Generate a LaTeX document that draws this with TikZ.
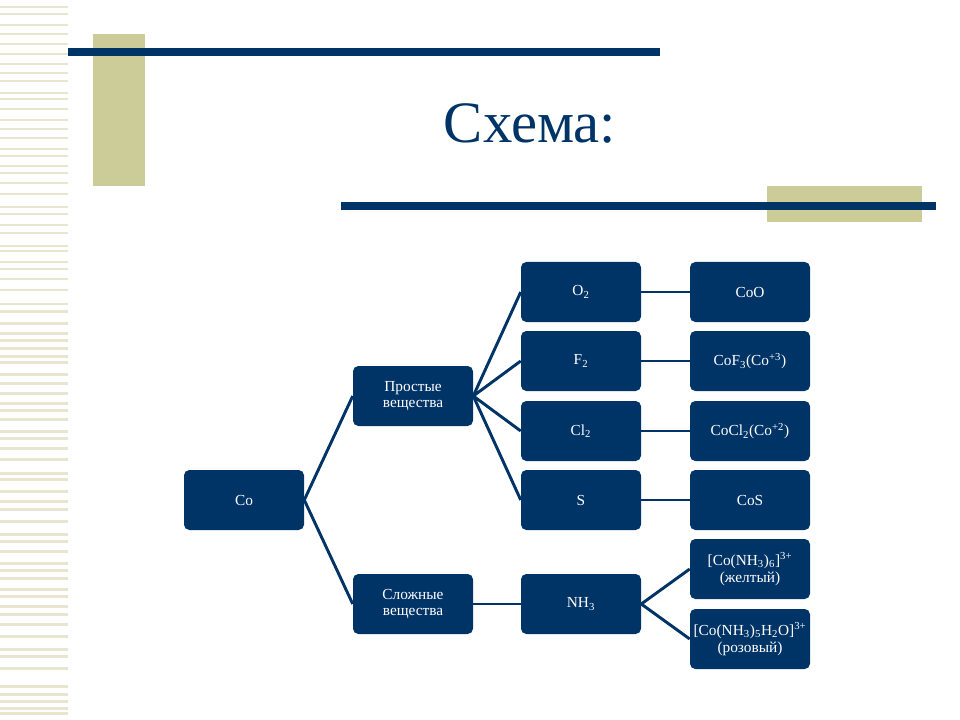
\documentclass[tikz,border=0pt]{standalone}
\usepackage{fontspec}
\setmainfont{Liberation Serif}

\definecolor{navy}{RGB}{0,51,102}
\definecolor{khaki}{RGB}{204,204,153}
\definecolor{stripe}{RGB}{232,230,206}

\tikzset{
  box/.style={fill=navy, rounded corners=4pt, minimum width=90pt, minimum height=45pt,
    text=white, align=center, inner sep=2pt, font=\fontsize{11.5}{12.5}\selectfont},
  link/.style={draw=navy, line width=2.2pt},
}

\begin{document}
\begin{tikzpicture}[x=0.75pt, y=-0.75pt]
\useasboundingbox (0,0) rectangle (960,720);

% left stripes
\foreach \y in {6,13,24,33,43,53,63,72,80,92,98,108,119,128,137,148,155,165,172,182,193,
  206,213,224,232,245,250,261,268,278,289,303,310,322,332,339,347,355,361,373,382,392,
  402,409,418,430,437,447,458,472,478,490,500,508,520,533,540,550,562,569,577,588,595,
  605,613,623,635,648,655,667,685,693,700,707,712}
  \fill[stripe] (0,\y) rectangle (68,\y+2.5);

% title bars
\fill[khaki] (93,34) rectangle (145,186);
\fill[navy] (68,48) rectangle (660,56);
\fill[khaki] (767,186) rectangle (922,222);
\fill[navy] (341,202) rectangle (936,210);

\node[text=navy, anchor=base, font=\fontsize{44}{50}\selectfont] (title) at (530,143) {Схема:};

\node[box] (co) at (244,500) {Co};

\node[box] (simple) at (413,396) {Простые\\вещества};
\node[box] (complex) at (413,604) {Сложные\\вещества};

\node[box] (o2) at (581,292) {O\textsubscript{2}};
\node[box] (f2) at (581,361) {F\textsubscript{2}};
\node[box] (cl2) at (581,431) {Cl\textsubscript{2}};
\node[box] (s) at (581,500) {S};
\node[box] (nh3) at (581,604) {NH\textsubscript{3}};

\node[box] (coo) at (750,292) {CoO};
\node[box] (cof3) at (750,361) {CoF\textsubscript{3}(Co\textsuperscript{+3})};
\node[box] (cocl2) at (750,431) {CoCl\textsubscript{2}(Co\textsuperscript{+2})};
\node[box] (cos) at (750,500) {CoS};
\node[box] (yellow) at (750,569) {[Co(NH\textsubscript{3})\textsubscript{6}]\textsuperscript{3+}\\(желтый)};
\node[box] (pink) at (750,639) {[Co(NH\textsubscript{3})\textsubscript{5}H\textsubscript{2}O]\textsuperscript{3+}\\(розовый)};

\draw[link] (co.east) -- (simple.west);
\draw[link] (co.east) -- (complex.west);
\foreach \n in {o2,f2,cl2,s}
  \draw[link] (simple.east) -- (\n.west);
\draw[link] (complex) -- (nh3);
\draw[link] (o2) -- (coo);
\draw[link] (f2) -- (cof3);
\draw[link] (cl2) -- (cocl2);
\draw[link] (s) -- (cos);
\draw[link] (nh3.east) -- (yellow.west);
\draw[link] (nh3.east) -- (pink.west);
\end{tikzpicture}
\end{document}
